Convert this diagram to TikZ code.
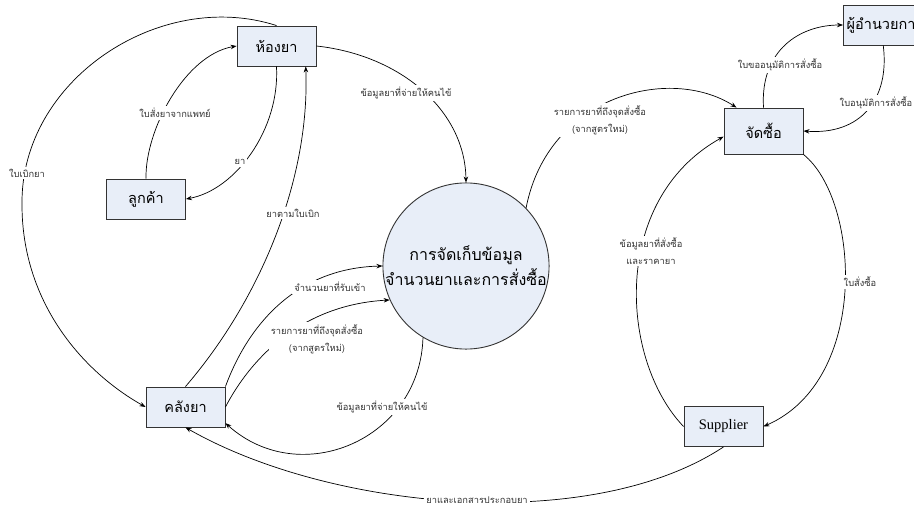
\documentclass[tikz,border=0pt]{standalone}
\usepackage{fontspec}
\setmainfont{Liberation Serif}
\newfontfamily\thai[Script=Thai]{Loma}
\usetikzlibrary{arrows.meta}
\definecolor{boxfill}{HTML}{E8EEF8}
\definecolor{edgegray}{HTML}{333333}
\begin{document}
\begin{tikzpicture}[x=1pt,y=-1pt,
  box/.style={draw=edgegray,line width=0.9pt,fill=boxfill,minimum width=79pt,
    minimum height=40pt,inner sep=0pt,font=\thai\fontsize{14.5}{16}\selectfont},
  store/.style={circle,draw=edgegray,line width=0.9pt,fill=boxfill,minimum size=166pt,
    inner sep=0pt,align=center,font=\thai\fontsize{16}{25}\selectfont},
  flow/.style={draw=black,line width=0.7pt,-{Stealth[length=6pt,width=4.5pt]}},
  lbl/.style={fill=white,inner sep=2pt,align=center,text=black!80,
    font=\thai\fontsize{9.3}{17}\selectfont}]
\useasboundingbox (0,0) rectangle (914,506);
\clip (0,0) rectangle (914,506);

% processes and external entities
\node[box] (hong)   at (276.5,46)  {ห้องยา};
\node[box] (luk)    at (146,199)   {ลูกค้า};
\node[box] (khlang) at (185.5,407) {คลังยา};
\node[box,minimum height=46pt] (jad) at (763.5,131) {จัดซื้อ};
\node[box,font=\fontsize{14.5}{16}\selectfont] (sup) at (723.5,426.5) {Supplier};
\node[box,minimum width=97pt,anchor=west] (dir) at (843,25) {\hspace*{-14pt}ผู้อำนวยการ};
\node[store] (circ) at (466,266) {การจัดเก็บข้อมูล\\จำนวนยาและการสั่งซื้อ};

% data flows
\draw[flow] (hong.north) .. controls (160,-12) and (20,80) .. (22,205)
  .. controls (22,300) and (80,370) .. (khlang.west);
\draw[flow] (luk.north) .. controls (145,130) and (185,55) .. (hong.west);
\draw[flow] (hong.south) .. controls (280,130) and (235,190) .. (luk.east);
\draw[flow] (khlang.north) .. controls (260,300) and (310,180) .. (hong.-35);
\draw[flow] (hong.east) .. controls (400,55) and (465,110) .. (circ.north);
\draw[flow] (khlang.north east) .. controls (250,320) and (300,268) .. (circ.west);
\draw[flow] (khlang.east) .. controls (250,360) and (300,305) .. (circ.204);
\draw[flow] (circ.239) .. controls (420,440) and (300,490) .. (khlang.-22);
\draw[flow] (circ.44) .. controls (548,95) and (670,65) .. (jad.139);
\draw[flow] (jad.north) .. controls (760,50) and (800,25) .. (dir.west);
\draw[flow] (dir.-113) .. controls (890,100) and (860,135) .. (jad.east);
\draw[flow] (jad.south east) .. controls (860,200) and (870,380) .. (sup.east);
\draw[flow] (sup.west) .. controls (620,360) and (610,200) .. (jad.188);
\draw[flow] (sup.south) .. controls (590,535) and (330,510) .. (khlang.south);

% flow labels
\node[lbl] (l1)  at (27,173)  {ใบเบิกยา};
\node[lbl] (l2)  at (175,113) {ใบสั่งยาจากแพทย์};
\node[lbl] (l3)  at (240,162) {ยา};
\node[lbl] (l4)  at (293,213) {ยาตามใบเบิก};
\node[lbl] (l5)  at (406,93)  {ข้อมูลยาที่จ่ายให้คนไข้};
\node[lbl] (l6)  at (330,287) {จำนวนยาที่รับเข้า};
\node[lbl] (l7)  at (317,339) {รายการยาที่ถึงจุดสั่งซื้อ\\(จากสูตรใหม่)};
\node[lbl] (l8)  at (382,407) {ข้อมูลยาที่จ่ายให้คนไข้};
\node[lbl] (l9)  at (600,120) {รายการยาที่ถึงจุดสั่งซื้อ\\(จากสูตรใหม่)};
\node[lbl] (l10) at (780,65)  {ใบขออนุมัติการสั่งซื้อ};
\node[lbl] (l11) at (876,103) {ใบอนุมัติการสั่งซื้อ};
\node[lbl] (l12) at (860,282) {ใบสั่งซื้อ};
\node[lbl] (l13) at (651,251) {ข้อมูลยาที่สั่งซื้อ\\และราคายา};
\node[lbl] (l14) at (477,500) {ยาและเอกสารประกอบยา};
\end{tikzpicture}
\end{document}
